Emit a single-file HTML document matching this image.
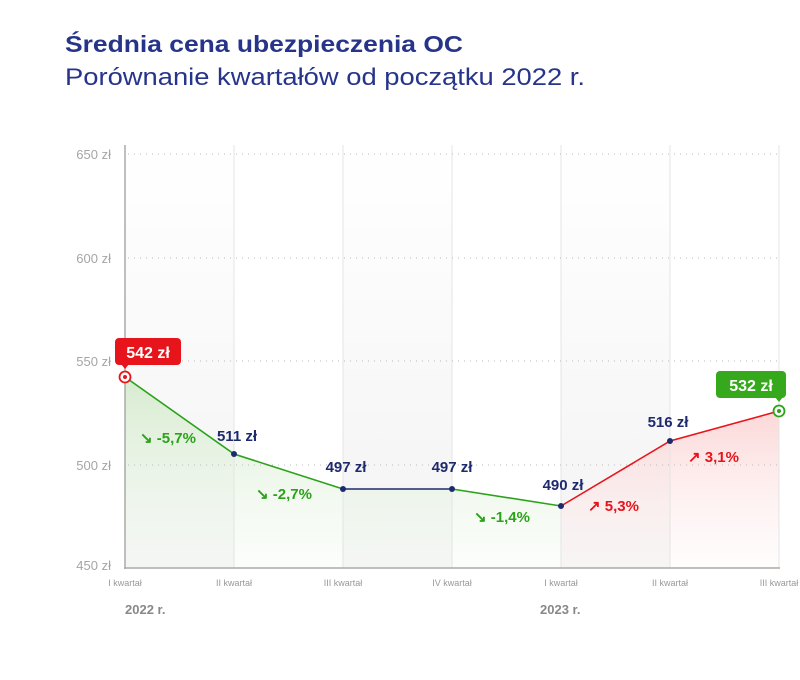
<!DOCTYPE html>
<html><head><meta charset="utf-8"><style>
body{margin:0;background:#fff;}
svg{display:block;font-family:"Liberation Sans",sans-serif;}
</style></head><body>
<svg width="800" height="680" viewBox="0 0 800 680">
<defs>
<linearGradient id="g" x1="0" y1="0" x2="0" y2="1"><stop offset="0" stop-color="#d3eacb" stop-opacity="0.9"/><stop offset="1" stop-color="#f6fbf4" stop-opacity="0.4"/></linearGradient>
<linearGradient id="r" x1="0" y1="0" x2="0" y2="1"><stop offset="0" stop-color="#fbd3d3" stop-opacity="0.9"/><stop offset="1" stop-color="#fff6f6" stop-opacity="0.3"/></linearGradient>
<linearGradient id="c" x1="0" y1="0" x2="0" y2="1"><stop offset="0" stop-color="#ffffff"/><stop offset="1" stop-color="#f3f3f3"/></linearGradient>
</defs>
<text x="65" y="52" font-size="23" font-weight="bold" fill="#26348a" textLength="398" lengthAdjust="spacingAndGlyphs">Średnia cena ubezpieczenia OC</text>
<text x="65" y="85" font-size="24" fill="#26348a" textLength="520" lengthAdjust="spacingAndGlyphs">Porównanie kwartałów od początku 2022 r.</text>
<rect x="125" y="145" width="109" height="423" fill="url(#c)"/>
<rect x="343" y="145" width="109" height="423" fill="url(#c)"/>
<rect x="561" y="145" width="109" height="423" fill="url(#c)"/>
<polygon points="125,377 234,454 343,489 452,489 561,506 561,568 125,568" fill="url(#g)"/>
<polygon points="561,506 670,441 779,411 779,568 561,568" fill="url(#r)"/>
<g stroke="#e4e4e4" stroke-width="1">
<line x1="234" y1="145" x2="234" y2="568"/><line x1="343" y1="145" x2="343" y2="568"/><line x1="452" y1="145" x2="452" y2="568"/><line x1="561" y1="145" x2="561" y2="568"/><line x1="670" y1="145" x2="670" y2="568"/><line x1="779" y1="145" x2="779" y2="568"/>
</g>
<g stroke="#bbb" stroke-width="1" stroke-dasharray="1,5">
<line x1="128" y1="154" x2="779" y2="154"/><line x1="128" y1="258" x2="779" y2="258"/><line x1="128" y1="361" x2="779" y2="361"/><line x1="128" y1="465" x2="779" y2="465"/>
</g>
<line x1="125" y1="145" x2="125" y2="569" stroke="#aaa" stroke-width="1.5"/>
<line x1="124" y1="568" x2="780" y2="568" stroke="#aaa" stroke-width="1.5"/>
<g font-size="13" fill="#a5a5a5" text-anchor="end">
<text x="111" y="159">650 zł</text><text x="111" y="263">600 zł</text><text x="111" y="366">550 zł</text><text x="111" y="470">500 zł</text><text x="111" y="570">450 zł</text>
</g>
<g font-size="9" fill="#999" text-anchor="middle">
<text x="125" y="586">I kwartał</text><text x="234" y="586">II kwartał</text><text x="343" y="586">III kwartał</text><text x="452" y="586">IV kwartał</text><text x="561" y="586">I kwartał</text><text x="670" y="586">II kwartał</text><text x="779" y="586">III kwartał</text>
</g>
<g font-size="13" font-weight="bold" fill="#888">
<text x="125" y="614">2022 r.</text><text x="540" y="614">2023 r.</text>
</g>
<polyline points="125,377 234,454 343,489" fill="none" stroke="#2aa31a" stroke-width="1.6"/>
<line x1="343" y1="489" x2="452" y2="489" stroke="#1e2a6e" stroke-width="1.6"/>
<line x1="452" y1="489" x2="561" y2="506" stroke="#2aa31a" stroke-width="1.6"/>
<polyline points="561,506 670,441 779,411" fill="none" stroke="#e8141b" stroke-width="1.6"/>
<g fill="#1e2a6e"><circle cx="234" cy="454" r="3"/><circle cx="343" cy="489" r="3"/><circle cx="452" cy="489" r="3"/><circle cx="561" cy="506" r="3"/><circle cx="670" cy="441" r="3"/></g>
<circle cx="125" cy="377" r="5.5" fill="#fff" stroke="#e8141b" stroke-width="1.8"/><circle cx="125" cy="377" r="2" fill="#e8141b"/>
<circle cx="779" cy="411" r="5.5" fill="#fff" stroke="#2aa31a" stroke-width="1.8"/><circle cx="779" cy="411" r="2" fill="#2aa31a"/>
<rect x="115" y="338" width="66" height="27" rx="4" fill="#e8141b"/><polygon points="121,364 129,364 125,369" fill="#e8141b"/>
<text x="148" y="358" font-size="16" font-weight="bold" fill="#fff" text-anchor="middle">542 zł</text>
<rect x="716" y="371" width="70" height="27" rx="4" fill="#35a81c"/><polygon points="775,397 783,397 779,402" fill="#35a81c"/>
<text x="751" y="391" font-size="16" font-weight="bold" fill="#fff" text-anchor="middle">532 zł</text>
<g font-size="15" font-weight="bold" fill="#1e2a6e" text-anchor="middle">
<text x="237" y="441">511 zł</text><text x="346" y="472">497 zł</text><text x="452" y="472">497 zł</text><text x="563" y="490">490 zł</text><text x="668" y="427">516 zł</text>
</g>
<g font-size="15" font-weight="bold">
<text x="140" y="443" fill="#2aa31a">↘ -5,7%</text>
<text x="256" y="499" fill="#2aa31a">↘ -2,7%</text>
<text x="474" y="522" fill="#2aa31a">↘ -1,4%</text>
<text x="588" y="511" fill="#e8141b">↗  5,3%</text>
<text x="688" y="462" fill="#e8141b">↗  3,1%</text>
</g>
</svg>
</body></html>
